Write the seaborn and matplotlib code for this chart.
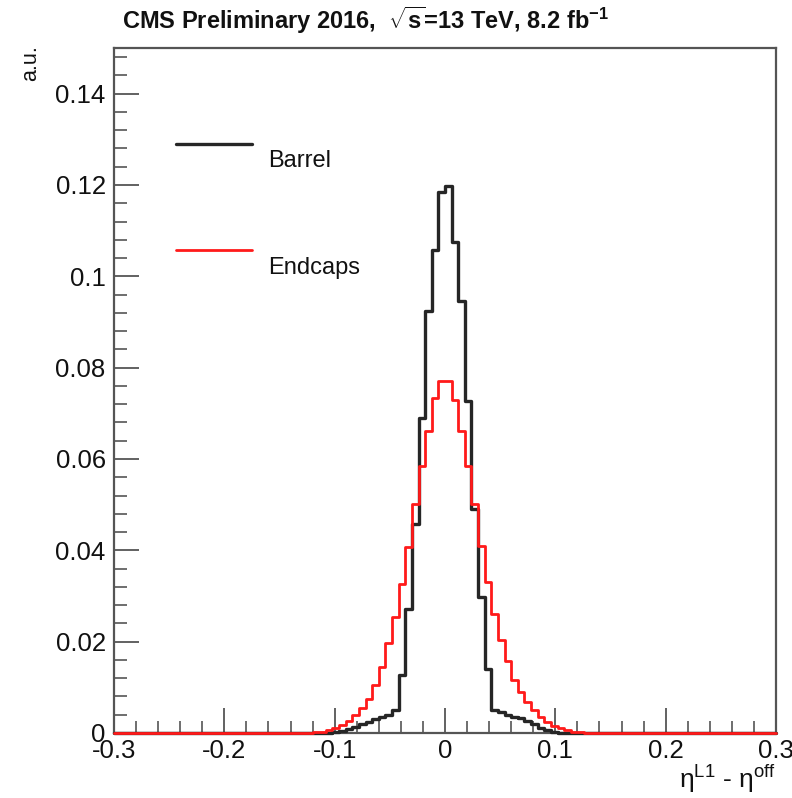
import numpy as np
import pandas as pd
import matplotlib
matplotlib.use("Agg")
import matplotlib.pyplot as plt
import seaborn as sns

# ---- data (bins of width 0.006, covering -0.132 .. 0.132; outside is zero) ----
bin_lo, bin_hi, bin_w = -0.3, 0.3, 0.006
first_edge = -0.132
barrel = [0.0, 0.0, 0.0, 0.0, 0.0001, 0.0002, 0.0004, 0.0008, 0.0013, 0.0020,
          0.0025, 0.0030, 0.0035, 0.0040, 0.0050, 0.0127, 0.0272, 0.0458, 0.0690, 0.0923,
          0.1058, 0.1185, 0.1198, 0.1076, 0.0945, 0.0727, 0.0490, 0.0298, 0.0141, 0.0050,
          0.0045, 0.0040, 0.0036, 0.0033, 0.0027, 0.0020, 0.0012, 0.0006, 0.0003, 0.0001,
          0.0, 0.0, 0.0, 0.0]
endcaps = [0.00005, 0.0001, 0.0002, 0.0003, 0.0006, 0.0010, 0.0017, 0.0027, 0.0040, 0.0055,
           0.0075, 0.0105, 0.0145, 0.0196, 0.0254, 0.0327, 0.0407, 0.0501, 0.0585, 0.0661,
           0.0734, 0.0770, 0.0770, 0.0730, 0.0661, 0.0585, 0.0501, 0.0410, 0.0330, 0.0261,
           0.0203, 0.0158, 0.0116, 0.0090, 0.0068, 0.0050, 0.0036, 0.0025, 0.0015, 0.0010,
           0.0006, 0.0003, 0.0002, 0.0001]
series = ["Barrel", "Endcaps"]
colors = {"Barrel": "#262626", "Endcaps": "#ff1a1a"}
xticks = [-0.3, -0.2, -0.1, 0, 0.1, 0.2, 0.3]
xticklabels = ["-0.3", "-0.2", "-0.1", "0", "0.1", "0.2", "0.3"]
yticks = [0, 0.02, 0.04, 0.06, 0.08, 0.1, 0.12, 0.14]
yticklabels = ["0", "0.02", "0.04", "0.06", "0.08", "0.1", "0.12", "0.14"]

centers = first_edge + bin_w * (np.arange(len(barrel)) + 0.5)
df = pd.concat([
    pd.DataFrame({"eta": centers, "w": barrel, "region": "Barrel"}),
    pd.DataFrame({"eta": centers, "w": endcaps, "region": "Endcaps"}),
])

sns.set_theme(style="white")
plt.rcParams["font.family"] = ["Liberation Sans", "DejaVu Sans"]
plt.rcParams["mathtext.fontset"] = "custom"
plt.rcParams["mathtext.rm"] = "Liberation Sans"
plt.rcParams["mathtext.it"] = "Liberation Sans"
plt.rcParams["mathtext.bf"] = "Liberation Sans:bold"
plt.rcParams["mathtext.default"] = "regular"

fig = plt.figure(figsize=(7.92, 7.98), dpi=100)
ax = fig.add_axes([114 / 792, 1 - 733 / 798, 662 / 792, 685 / 798])

nbins = int(round((bin_hi - bin_lo) / bin_w))
for name in series:
    sub = df[df["region"] == name]
    sns.histplot(data=sub, x="eta", weights="w", bins=nbins, binrange=(bin_lo, bin_hi),
                 element="step", fill=False, color=colors[name],
                 linewidth=2.4 if name == "Barrel" else 2.0, ax=ax, legend=False,
                 zorder=3, clip_on=False)

ax.set_xlim(bin_lo, bin_hi)
ax.set_ylim(0, 0.15)
ax.set_xticks(xticks)
ax.set_xticklabels(xticklabels)
ax.set_yticks(yticks)
ax.set_yticklabels(yticklabels)
ax.set_xticks(np.arange(-0.3, 0.3001, 0.02), minor=True)
ax.set_yticks(np.arange(0, 0.1501, 0.004), minor=True)
ax.tick_params(axis="both", which="major", direction="in", length=18, width=1.3,
               color="#555555", labelsize=18.5, labelcolor="#111111", pad=6,
               bottom=True, left=True, top=False, right=False)
ax.tick_params(axis="both", which="minor", direction="in", length=9, width=1.2,
               color="#555555", bottom=True, left=True, top=False, right=False)
ax.tick_params(axis="x", which="major", pad=4)
for s in ax.spines.values():
    s.set_color("#555555")
    s.set_linewidth(1.6)
    s.set_zorder(2)
ax.set_xlabel("")
ax.set_ylabel("")

# legend (ROOT style: text sits below the line sample)
for name, ly, ty in [("Barrel", 0.8599, 0.835), ("Endcaps", 0.7051, 0.6788)]:
    ax.plot([0.0937, 0.2085], [ly, ly], transform=ax.transAxes,
            color=colors[name], linewidth=2.4 if name == "Barrel" else 2.0)
    ax.text(0.2326, ty, name, transform=ax.transAxes, fontsize=17,
            va="center", ha="left", color="#111111")

fig.text(122 / 792, 1 - 29 / 798,
         r"CMS Preliminary 2016,  $\sqrt{s}$=13 TeV, 8.2 fb$^{-1}$",
         fontsize=17, fontweight="bold", ha="left", va="baseline", color="#111111")
fig.text(776 / 792, 1 - 788 / 798, r"η$^{L1}$ - η$^{off}$", fontsize=19,
         ha="right", va="baseline", color="#111111")
fig.text(31 / 792, 1 - 45 / 798, "a.u.", fontsize=15.5, rotation=90,
         ha="center", va="top", color="#111111")

fig.savefig("out.png", dpi=100)
